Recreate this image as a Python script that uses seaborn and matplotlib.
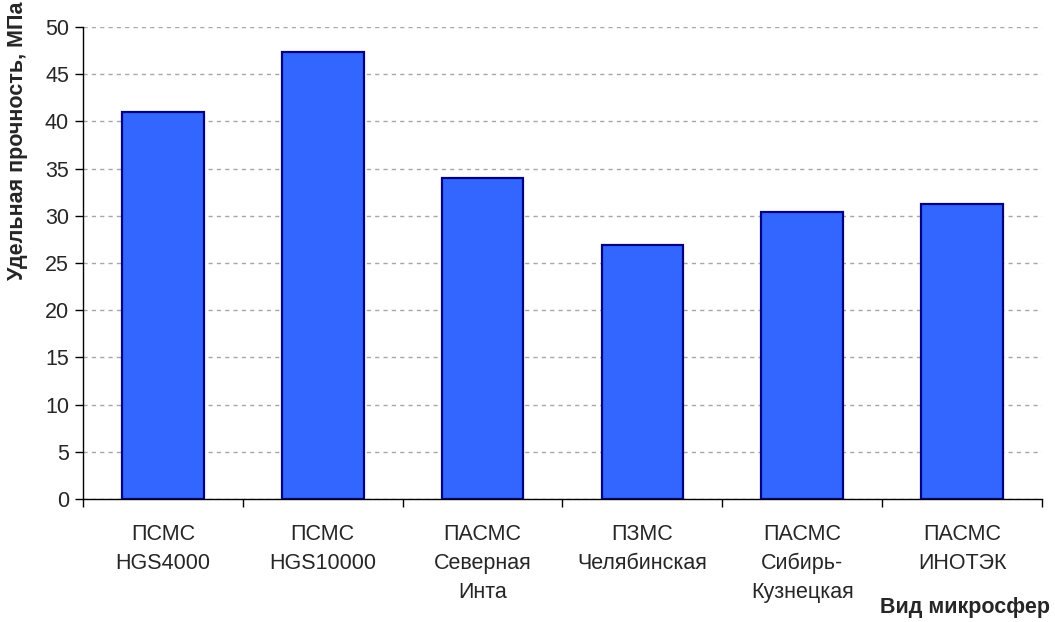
import matplotlib
matplotlib.use("Agg")
import matplotlib.pyplot as plt
import seaborn as sns
import pandas as pd
import numpy as np

categories = ["ПСМС\nHGS4000", "ПСМС\nHGS10000", "ПАСМС\nСеверная\nИнта",
              "ПЗМС\nЧелябинская", "ПАСМС\nСибирь-\nКузнецкая", "ПАСМС\nИНОТЭК"]
values = [41.0, 47.3, 34.0, 26.9, 30.4, 31.3]
y_ticks = [0, 5, 10, 15, 20, 25, 30, 35, 40, 45, 50]

sns.set_style("white")
plt.rcParams["font.family"] = ["Liberation Sans", "DejaVu Sans"]

df = pd.DataFrame({"cat": categories, "val": values})

fig = plt.figure(figsize=(10.55, 6.22), dpi=100)
W, H = 1055, 622
ax = fig.add_axes([83 / W, 1 - 499 / H, (1042 - 83) / W, (499 - 27) / H])

sns.barplot(data=df, x="cat", y="val", color="#3366FF", saturation=1,
            edgecolor="#000080", linewidth=1.6, width=0.51, ax=ax, zorder=3)

ax.set_ylim(0, 50)
ax.set_xlim(-0.5, len(categories) - 0.5)
ax.set_yticks(y_ticks)
ax.yaxis.grid(True, color="#a8a8a8", linestyle=(0, (3, 3)), linewidth=1, zorder=0)
ax.set_axisbelow(True)

for s in ["top", "right"]:
    ax.spines[s].set_visible(False)
for s in ["left", "bottom"]:
    ax.spines[s].set_color("black")
    ax.spines[s].set_linewidth(1)

ax.tick_params(axis="y", direction="out", length=6, width=1, color="black",
               labelsize=15.5, pad=4, left=True)
ax.tick_params(axis="x", which="major", length=0, labelsize=15.5, pad=18)
ax.set_xticks(np.arange(len(categories) + 1) - 0.5, minor=True)
ax.tick_params(axis="x", which="minor", direction="out", length=6, width=1,
               color="black", bottom=True)
for lbl in ax.get_xticklabels():
    lbl.set_linespacing(1.5)

ax.set_xlabel("")
ax.set_ylabel("")
fig.text(18 / W, 1 - 1 / H, "Удельная прочность, МПа", rotation=90,
         ha="center", va="top", fontsize=15.5, fontweight="bold")
fig.text(1050 / W, 1 - 608 / H, "Вид микросфер", ha="right", va="center",
         fontsize=15.5, fontweight="bold")

fig.savefig("out.png", dpi=100)
